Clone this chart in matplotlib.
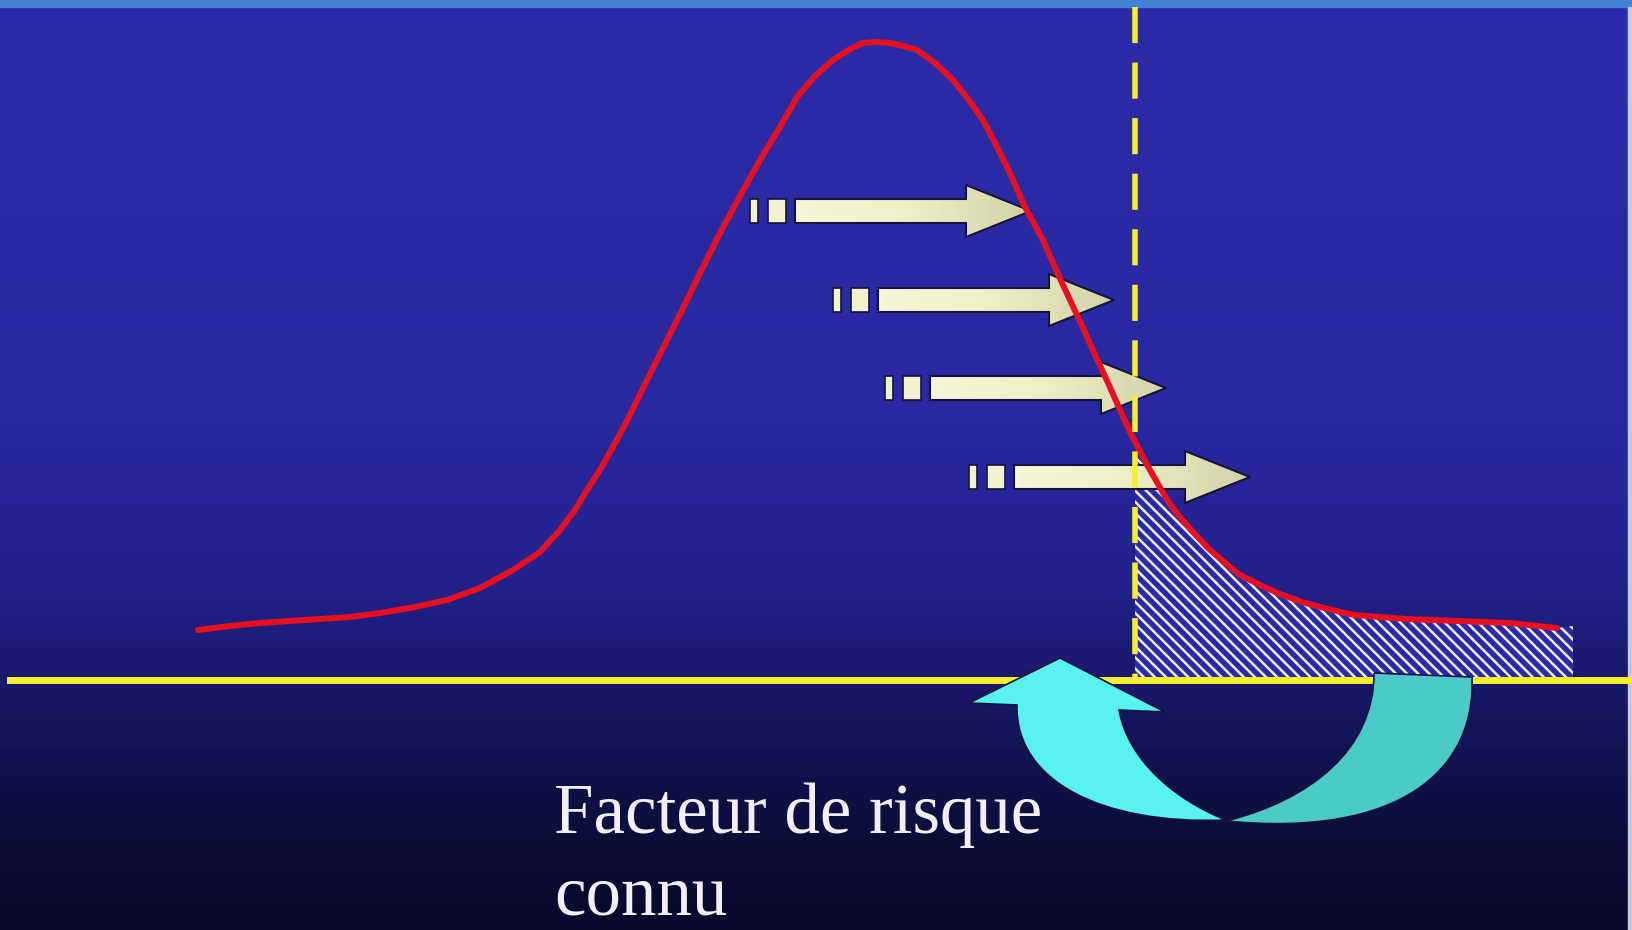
import numpy as np
import matplotlib
matplotlib.use("Agg")
import matplotlib.pyplot as plt
from matplotlib.patches import Polygon, PathPatch, Rectangle
from matplotlib.path import Path
from matplotlib.colors import LinearSegmentedColormap

# Canvas works in slide pixels, y grows downward.
WIDTH, HEIGHT = 1633, 930

# Red distribution curve.
CURVE_X = [198, 230, 260, 290, 320, 350, 380, 415, 447, 480, 513, 540, 560, 575,
           587, 600, 613, 630, 647, 665, 683, 700, 720, 740, 760, 780, 797, 815,
           833, 850, 863, 876, 890, 903, 917, 935, 953, 968, 983, 995, 1007,
           1025, 1043, 1057, 1070, 1083, 1096, 1109, 1120, 1130, 1146, 1166,
           1178, 1192, 1208, 1224, 1240, 1260, 1280, 1302, 1328, 1354, 1406,
           1458, 1510, 1557]
CURVE_Y = [630, 626, 623, 621, 619, 617, 613, 607, 600, 588, 570, 552, 530, 510,
           490, 470, 447, 415, 380, 344, 308, 273, 233, 196, 160, 127, 97, 76,
           60, 49, 43, 42, 43, 46, 50, 63, 80, 99, 120, 143, 167,
           207, 240, 272, 300, 328, 357, 385, 410, 432, 463, 498,
           515, 531, 548, 562, 575, 585, 594, 602, 609, 615, 619,
           621, 623, 628]

# Threshold (dashed line), baseline and the end of the hatched tail.
THRESHOLD_X = 1135
BASELINE_Y = 680
TAIL_X = [1573]
TAIL_Y = [626]

# Straight block arrows: left end x and centre y.
ARROW_X = [750, 833, 885, 969]
ARROW_Y = [211, 300, 388, 477]

# Curved arrows (bezier control points).
TEAL_OUTER = [(1472, 677), (1476, 770), (1400, 838), (1226, 821)]
TEAL_INNER = [(1226, 821), (1310, 800), (1374, 750), (1374, 673)]
CYAN_HEAD = [(969, 703), (1060, 658), (1165, 712)]
CYAN_INNER = [(1119, 710), (1128, 760), (1175, 800), (1226, 820)]
CYAN_OUTER = [(1226, 822), (1100, 825), (1015, 780), (1017, 705)]

LABEL_LINES = ["Facteur de risque", "connu"]
LABEL_X = 554
LABEL_Y = [833, 914]

EDGE = "#14143a"


def draw_background(ax):
    stops = [(0.0, "#2c2ca9"), (0.45, "#2828a0"), (0.62, "#22228e"),
             (0.72, "#1a1a70"), (0.82, "#121250"), (0.92, "#0c0c36"),
             (1.0, "#09092a")]
    cmap = LinearSegmentedColormap.from_list("slide", stops)
    grad = np.linspace(0, 1, 512).reshape(-1, 1)
    ax.imshow(grad, cmap=cmap, extent=(0, WIDTH, HEIGHT, 0), aspect="auto",
              zorder=0)
    ax.add_patch(Rectangle((0, 0), WIDTH, 7, color="#4283d5", zorder=1))
    ax.add_patch(Rectangle((1628, 7), 5, HEIGHT, color="#c8c8d8", zorder=1))


def draw_block_arrow(ax, x0, yc):
    cream = "#f2f2cc"
    for bx, bw in [(0, 8), (18, 18)]:
        ax.add_patch(Rectangle((x0 + bx, yc - 12), bw, 24, facecolor=cream,
                               edgecolor=EDGE, linewidth=1.2, zorder=6))
    pts = [(x0 + 45, yc - 12), (x0 + 216, yc - 12), (x0 + 216, yc - 26),
           (x0 + 281, yc), (x0 + 216, yc + 26), (x0 + 216, yc + 12),
           (x0 + 45, yc + 12)]
    body = Polygon(pts, closed=True, facecolor="none", edgecolor=EDGE,
                   linewidth=1.5, zorder=7)
    ax.add_patch(body)
    # soft shading: light shaft, greyer head
    shade = LinearSegmentedColormap.from_list(
        "cream", ["#f6f6d8", "#eeeec6", "#d2d2a8"])
    g = np.linspace(0, 1, 64).reshape(1, -1)
    im = ax.imshow(g, cmap=shade, extent=(x0 + 45, x0 + 281, yc + 26, yc - 26),
                   aspect="auto", zorder=6)
    im.set_clip_path(body)


def draw_curved_arrows(ax):
    c4 = [Path.CURVE4] * 3
    teal = Path([(1374, 673)] + TEAL_OUTER + TEAL_INNER[1:],
                [Path.MOVETO, Path.LINETO] + c4 + c4)
    ax.add_patch(PathPatch(teal, facecolor="#4ccaca", edgecolor=EDGE,
                           linewidth=1.2, zorder=9))
    verts = ([CYAN_HEAD[1], CYAN_HEAD[2]] + CYAN_INNER + CYAN_OUTER[1:]
             + [CYAN_HEAD[0], CYAN_HEAD[1]])
    codes = ([Path.MOVETO, Path.LINETO, Path.LINETO] + c4 + c4
             + [Path.LINETO, Path.CLOSEPOLY])
    ax.add_patch(PathPatch(Path(verts, codes), facecolor="#58f2f2",
                           edgecolor=EDGE, linewidth=1.2, zorder=8))


fig = plt.figure(figsize=(WIDTH / 100, HEIGHT / 100), dpi=100)
ax = fig.add_axes([0, 0, 1, 1])
ax.set_xlim(0, WIDTH)
ax.set_ylim(HEIGHT, 0)
ax.set_axis_off()

draw_background(ax)

# hatched tail beyond the threshold
plt.rcParams["hatch.linewidth"] = 1.8
tail = ax.fill_between(CURVE_X + TAIL_X, CURVE_Y + TAIL_Y, BASELINE_Y,
                       facecolor="#2a2aa6", edgecolor="#ececff", hatch="\\\\\\",
                       linewidth=0, zorder=3)
tail.set_clip_path(Rectangle((THRESHOLD_X, 0), WIDTH, HEIGHT,
                             transform=ax.transData))

# baseline and threshold
ax.axhline(BASELINE_Y, xmin=10 / WIDTH, xmax=1628 / WIDTH, color="#f4f02a",
           linewidth=5, zorder=4)
ax.plot([THRESHOLD_X, THRESHOLD_X], [7, BASELINE_Y], color="#f4f02a",
        linewidth=4, dashes=(6.5, 3.5), zorder=10)

ax.plot(CURVE_X, CURVE_Y, color="#e8101e", linewidth=4.3,
        solid_capstyle="round", solid_joinstyle="round", zorder=8.5)

for x0, yc in zip(ARROW_X, ARROW_Y):
    draw_block_arrow(ax, x0, yc)

draw_curved_arrows(ax)

for line, y in zip(LABEL_LINES, LABEL_Y):
    ax.text(LABEL_X, y, line, family="Liberation Serif", fontsize=51,
            color="#f2eefa", va="baseline", ha="left", zorder=11)

fig.savefig("out.png", dpi=100)
